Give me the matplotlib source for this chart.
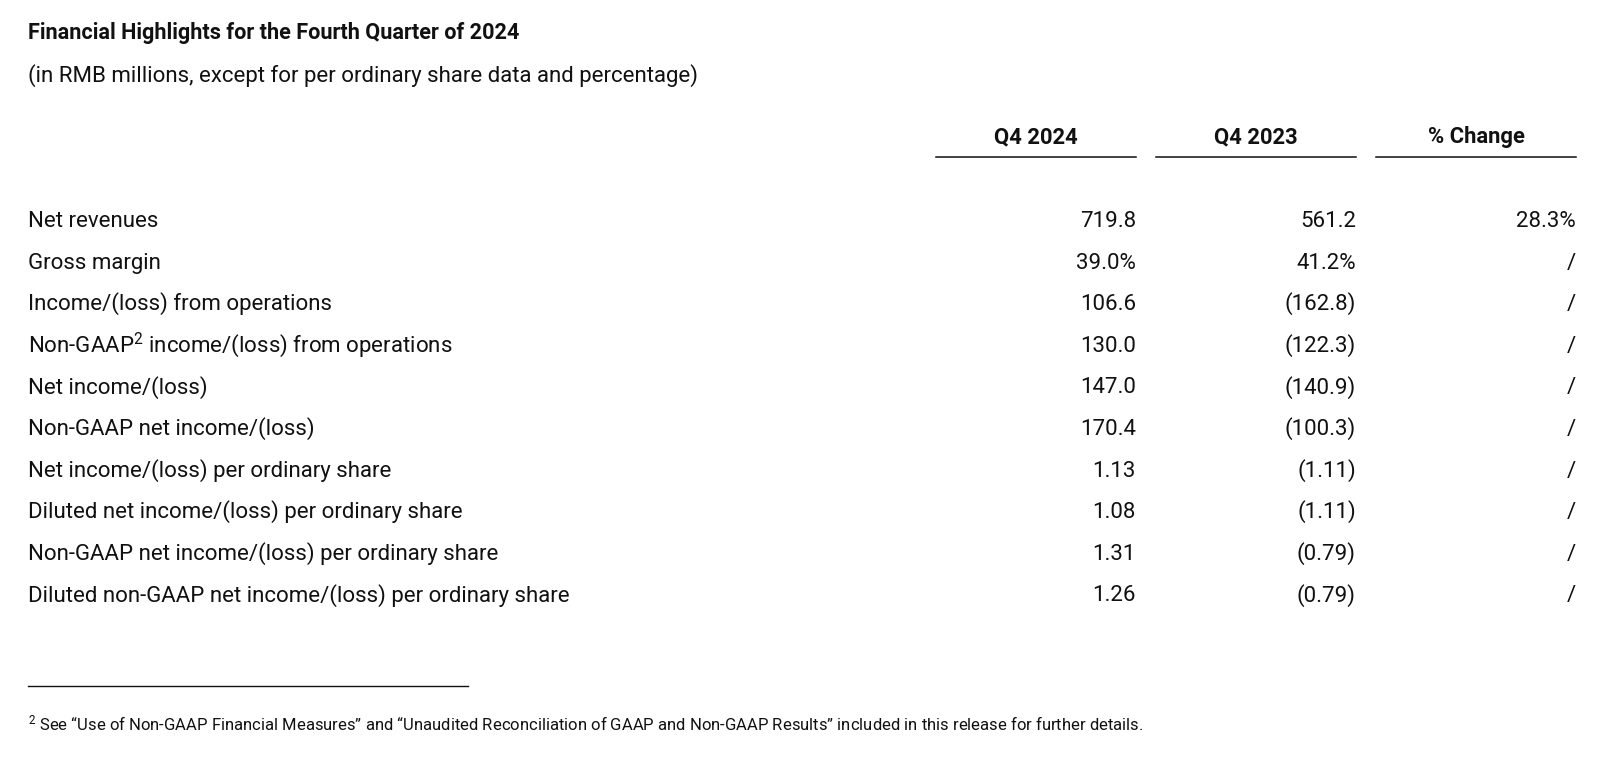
import matplotlib.pyplot as plt
from matplotlib.lines import Line2D

plt.rcParams['font.family'] = ['Roboto', 'DejaVu Sans']
plt.rcParams['mathtext.fontset'] = 'custom'
plt.rcParams['mathtext.rm'] = 'Roboto'
plt.rcParams['mathtext.it'] = 'Roboto:italic'
plt.rcParams['mathtext.bf'] = 'Roboto:bold'

######## Table data ########
title = "Financial Highlights for the Fourth Quarter of 2024"
subtitle = "(in RMB millions, except for per ordinary share data and percentage)"
col_headers = ["Q4 2024", "Q4 2023", "% Change"]
row_labels = [
    "Net revenues",
    "Gross margin",
    "Income/(loss) from operations",
    r"Non-GAAP$^{\mathrm{2}}$ income/(loss) from operations",
    "Net income/(loss)",
    "Non-GAAP net income/(loss)",
    "Net income/(loss) per ordinary share",
    "Diluted net income/(loss) per ordinary share",
    "Non-GAAP net income/(loss) per ordinary share",
    "Diluted non-GAAP net income/(loss) per ordinary share",
]
q4_2024 = ["719.8", "39.0%", "106.6", "130.0", "147.0", "170.4", "1.13", "1.08", "1.31", "1.26"]
q4_2023 = ["561.2", "41.2%", "(162.8)", "(122.3)", "(140.9)", "(100.3)", "(1.11)", "(1.11)", "(0.79)", "(0.79)"]
pct_change = ["28.3%", "/", "/", "/", "/", "/", "/", "/", "/", "/"]
footnote = r"$^{\mathrm{2}}$ See “Use of Non-GAAP Financial Measures” and “Unaudited Reconciliation of GAAP and Non-GAAP Results” included in this release for further details."

W, H = 1611, 761
INK = '#111111'
fig = plt.figure(figsize=(W / 100, H / 100), dpi=100)
fig.patch.set_facecolor('white')

# helpers: pixel coords (from top-left) -> figure fraction
def fx(px):
    return px / W

def fy(py):
    return 1 - py / H

# Title block
fig.text(fx(28), fy(38.5), title, fontsize=15.6, fontweight='bold', ha='left', va='baseline', color=INK)
fig.text(fx(28), fy(82), subtitle, fontsize=16, ha='left', va='baseline', color=INK)

# Column headers with rules underneath
col_left = [936, 1156, 1376]
col_right = [1136, 1356, 1576]
for hdr, l, r in zip(col_headers, col_left, col_right):
    fig.text(fx((l + r) / 2), fy(143.5), hdr, fontsize=15.8, fontweight='bold', ha='center', va='baseline', color=INK)
    fig.add_artist(Line2D([fx(l), fx(r)], [fy(157), fy(157)], color=INK, lw=1.1))

# Rows
row_base0 = 227
row_step = 41.6
for i, label in enumerate(row_labels):
    y = fy(row_base0 + i * row_step)
    fig.text(fx(28), y, label, fontsize=16, ha='left', va='baseline', color=INK)
    for vals, r in zip([q4_2024, q4_2023, pct_change], col_right):
        fig.text(fx(r), y, vals[i], fontsize=16, ha='right', va='baseline', color=INK)

# Footnote
fig.add_artist(Line2D([fx(28), fx(468)], [fy(685.5), fy(685.5)], color=INK, lw=1.0))
fig.text(fx(28), fy(730.5), footnote, fontsize=12, ha='left', va='baseline', color=INK)

fig.savefig("out.png", dpi=100, facecolor='white')
